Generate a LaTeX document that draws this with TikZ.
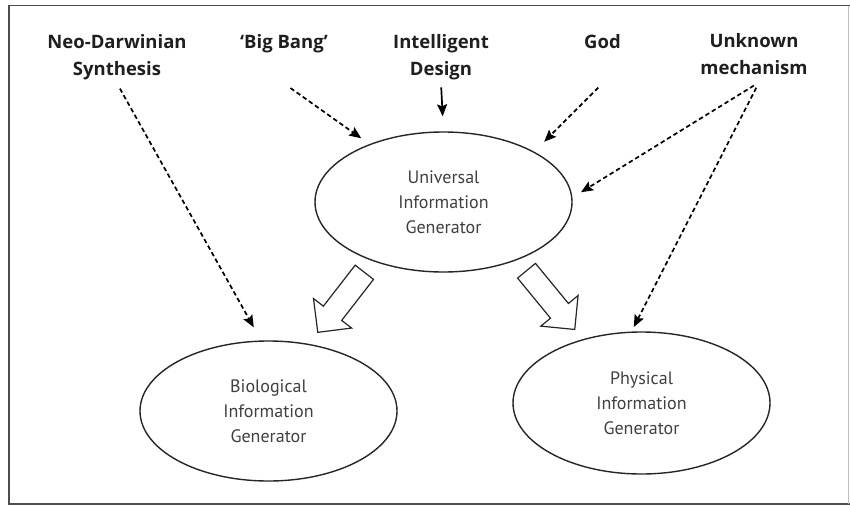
\documentclass[tikz,border=0pt]{standalone}
\usepackage{fontspec}
\setmainfont{PT Sans}
\newfontfamily\causefont{Open Sans}
\usetikzlibrary{shapes.geometric,shapes.arrows,arrows.meta}
\begin{document}
\begin{tikzpicture}[x=1pt,y=-1pt,
  cause/.style={font=\causefont\bfseries\fontsize{18.5}{27}\selectfont, text=black!88,
    inner sep=0pt, anchor=north},
  causetwo/.style={cause, align=center},
  causeone/.style={cause, text depth=35.1pt},
  gen/.style={ellipse, draw=black!85, line width=1.4pt, minimum width=257pt,
    minimum height=140pt, inner sep=0pt, align=center,
    font=\fontsize{18}{25}\selectfont, text=black!75},
  tipstyle/.style={-{Stealth[length=12pt,width=10pt,inset=2pt]}},
  link/.style={tipstyle, line width=1.7pt, dash pattern=on 4.5pt off 3pt},
  solidlink/.style={tipstyle, line width=1.7pt},
  hollow/.style={single arrow, draw=black!85, fill=white, line width=1.2pt,
    minimum height=76pt, inner xsep=0pt, inner ysep=11pt, outer sep=0pt,
    single arrow head extend=12.5pt, single arrow tip angle=90, anchor=tail},
  frame/.style={draw=black!70, line width=1.5pt}
]
\useasboundingbox (0,0) rectangle (850,506);
\fill[white] (0,0) rectangle (850,506);

% border
\draw[frame] (850,5.5) -| (9,504) -- (850,504);
\draw[black!25, line width=1pt] (848,5.5) -- (848,504);

% candidate causes
\node[causetwo] (nd)  at (117,29) {Neo-Darwinian\strut\\Synthesis\strut};
\node[causeone] (bb)  at (284,29) {‘Big Bang’\strut};
\node[causetwo] (id)  at (441,29) {Intelligent\strut\\Design\strut};
\node[causeone] (god) at (602.5,29) {God\strut};
\node[causetwo] (un)  at (754,28) {Unknown\strut\\mechanism\strut};

% information generators
\node[gen] (u)    at (443.5,202) {Universal\\Information\\Generator};
\node[gen] (bio)  at (268.5,411) {Biological\\Information\\Generator};
\node[gen, minimum height=142pt] (phys) at (641.5,403) {Physical\\Information\\Generator};

% causal links
\draw[link, shorten <=6pt, shorten >=15pt] (nd.south) -- (bio.96.5);
\draw[link, shorten <=8pt, shorten >=10pt] (bb.south) -- (u.142);
\draw[solidlink, shorten <=4pt, shorten >=15pt] (id.south) -- (u.north);
\draw[link, shorten <=6pt, shorten >=14pt] (god.south) -- (u.29.2);
\draw[link, shorten <=6pt, shorten >=10pt] ([xshift=5pt]un.south) -- (u.2.6);
\draw[link, shorten <=6pt, shorten >=5pt] ([xshift=5pt]un.south) -- (phys.98.7);

% hollow arrows from the universal generator
\node[hollow, rotate=-127.8] (la) at ([shift={(-127.8:14pt)}]u.-140.9) {};
\node[hollow, rotate=-50.6]  (ra) at ([shift={(-50.6:14pt)}]u.-38.5) {};
\end{tikzpicture}
\end{document}
